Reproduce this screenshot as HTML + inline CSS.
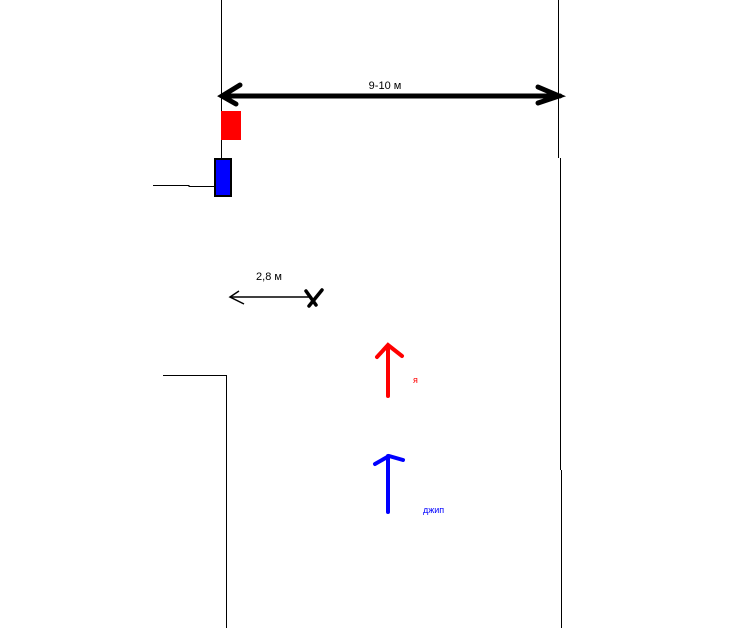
<!DOCTYPE html>
<html><head><style>body{margin:0;background:#fff}svg{display:block}</style></head><body>
<svg width="748" height="628" xmlns="http://www.w3.org/2000/svg" font-family="Liberation Sans, sans-serif">
<g stroke="#000" stroke-width="1" fill="none">
<line x1="221.5" y1="0" x2="221.5" y2="186"/>
<polyline points="153,185.5 189,185.5 189,186.5 221,186.5"/>
<polyline points="163,375.5 226.5,375.5 226.5,628"/>
<line x1="558.5" y1="0" x2="558.5" y2="158"/>
<line x1="560.5" y1="158" x2="560.5" y2="470"/>
<line x1="561.5" y1="470" x2="561.5" y2="628"/>
</g>
<rect x="221" y="111" width="20" height="29" fill="#f00"/>
<rect x="215" y="159" width="16" height="37" fill="#00f" stroke="#000" stroke-width="2"/>
<g stroke="#000" stroke-width="5" stroke-linecap="round" fill="none">
<line x1="223" y1="96" x2="560" y2="96"/>
<polyline points="240,85 222,96 236,104"/>
<polyline points="538,87 559,96 538,103"/>
</g>
<text x="385" y="89" font-size="11" text-anchor="middle">9-10 м</text>
<g stroke="#000" stroke-width="1.5" fill="none">
<line x1="230" y1="297" x2="312" y2="297"/>
<polyline points="239,291 230,297 244,304"/>
</g>
<g stroke="#000" stroke-width="3.5" stroke-linecap="round">
<line x1="306" y1="291" x2="316" y2="305"/>
<line x1="322" y1="290" x2="309" y2="306"/>
</g>
<text x="269" y="280" font-size="11" text-anchor="middle">2,8 м</text>
<g stroke="#f00" stroke-width="4" stroke-linecap="round" fill="none">
<line x1="388" y1="346" x2="388" y2="396"/>
<polyline points="377,357 388,345 402,356"/>
</g>
<text x="413" y="383" font-size="9" fill="#f00">я</text>
<g stroke="#00f" stroke-width="4" stroke-linecap="round" fill="none">
<line x1="388" y1="456" x2="388" y2="512"/>
<polyline points="375,464 389,456 403,460"/>
</g>
<text x="423" y="513" font-size="9" fill="#00f">джип</text>
</svg>
</body></html>
